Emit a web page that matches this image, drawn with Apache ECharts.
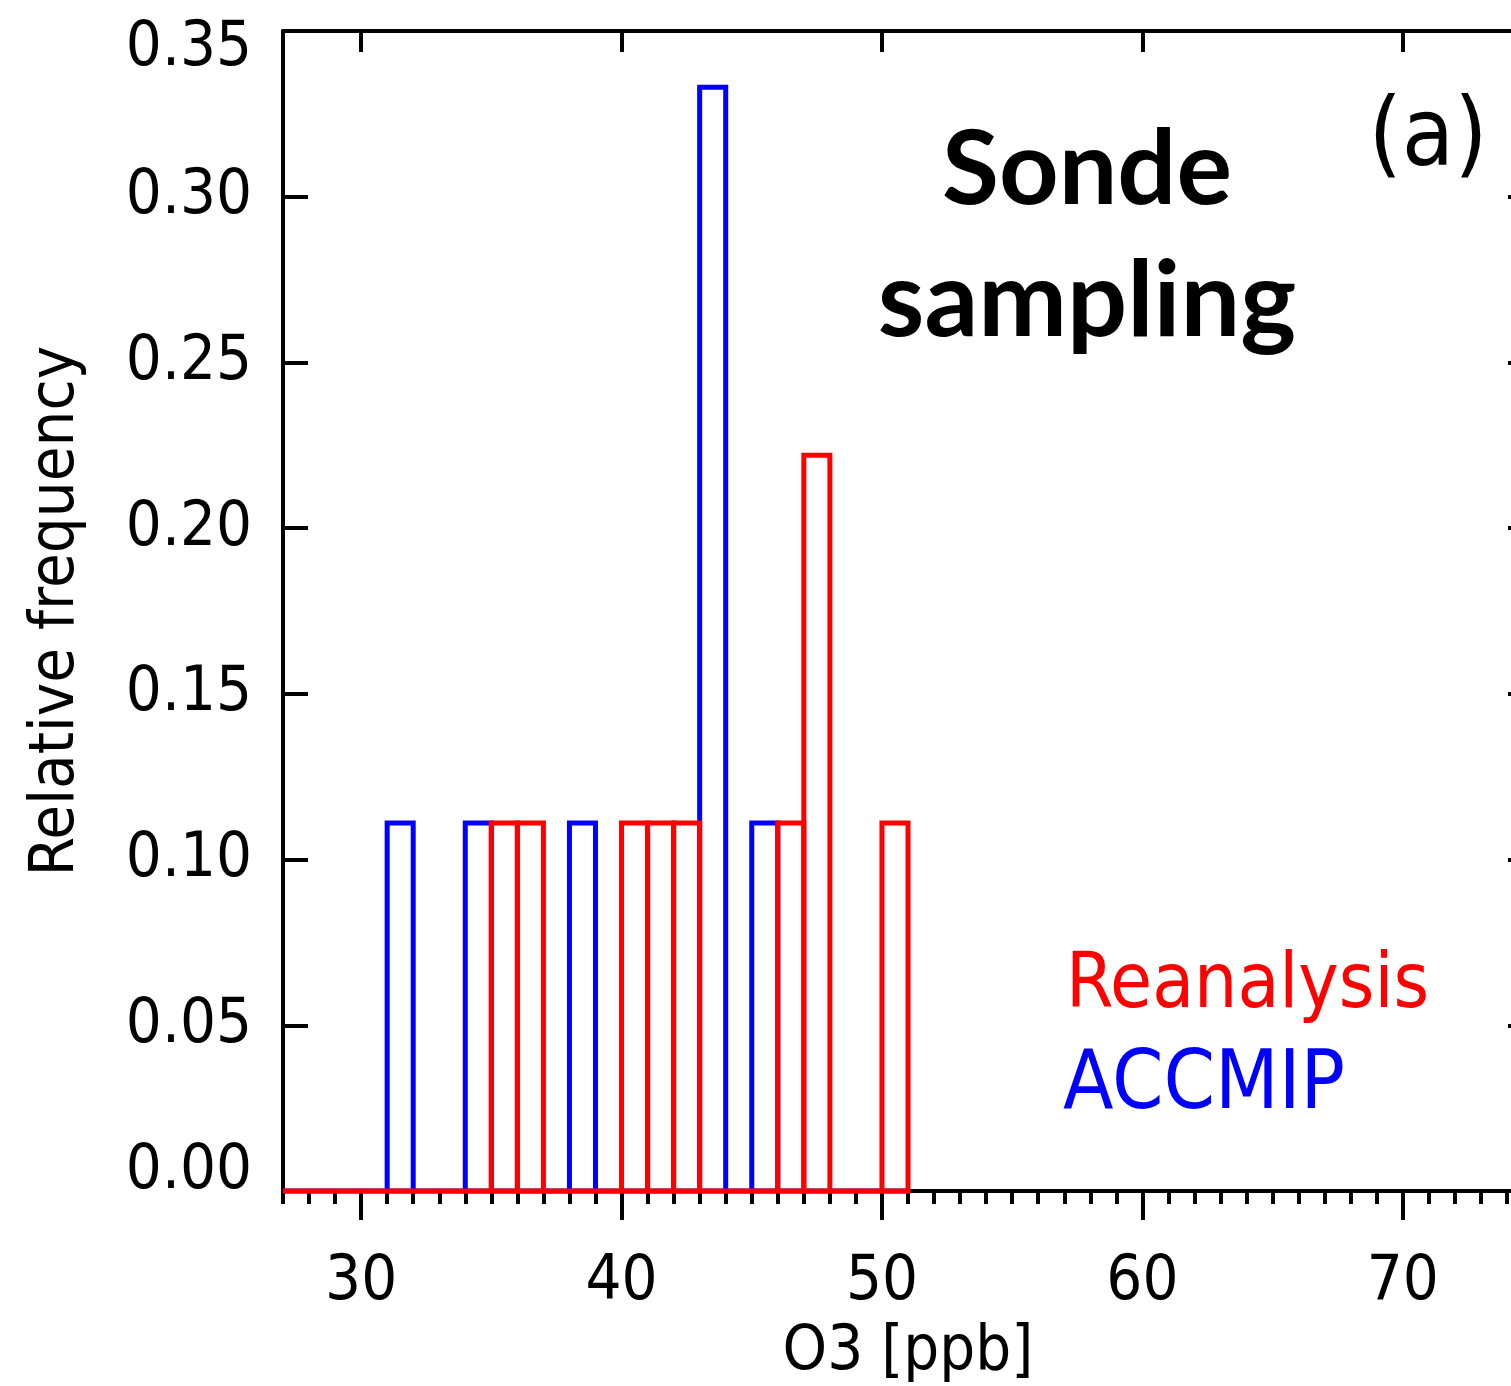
<!DOCTYPE html>
<html>
<head>
<meta charset="utf-8">
<script src="https://cdn.jsdelivr.net/npm/echarts@6/dist/echarts.min.js"></script>
<style>
  html, body { margin: 0; padding: 0; background: #fff; overflow: hidden; }
  #chart { width: 1560px; height: 1386px; }
</style>
</head>
<body>
<div id="chart"></div>
<script>
// histogram bins, 1 ppb wide, start value of each bin
const binStarts = [27, 28, 29, 30, 31, 32, 33, 34, 35, 36, 37, 38, 39, 40, 41, 42, 43, 44, 45, 46, 47, 48, 49, 50];
const reanalysisFreq = [0, 0, 0, 0, 0, 0, 0, 0, 0.111, 0.111, 0, 0, 0, 0.111, 0.111, 0.111, 0, 0, 0, 0.111, 0.222, 0, 0, 0.111];
const accmipFreq = [0, 0, 0, 0, 0.111, 0, 0, 0.111, 0, 0, 0, 0.111, 0, 0, 0, 0, 0.333, 0, 0.111, 0, 0, 0, 0, 0];
const xTickLabels = [30, 40, 50, 60, 70];
const yTickLabels = [0, 0.05, 0.10, 0.15, 0.20, 0.25, 0.30, 0.35];

const axisFont = '"DejaVu Sans Condensed", "DejaVu Sans", sans-serif';

function toBins(freq) {
  return binStarts.map((s, i) => [s, s + 1, freq[i]]);
}

function stepBars(color) {
  return function (params, api) {
    const p0 = api.coord([api.value(0), api.value(2)]);
    const p1 = api.coord([api.value(1), 0]);
    return {
      type: 'rect',
      shape: { x: p0[0], y: p0[1], width: p1[0] - p0[0], height: p1[1] - p0[1] },
      style: { fill: 'none', stroke: color, lineWidth: 5 }
    };
  };
}

const chart = echarts.init(document.getElementById('chart'));

const lineStyle = { color: '#000', width: 4 };

const option = {
  animation: false,
  grid: { left: 283, right: 27, top: 31, bottom: 195, containLabel: false, outerBoundsMode: 'none' },
  xAxis: [
    {
      type: 'value', position: 'bottom', min: 27, max: 75, interval: 1,
      axisLine: { lineStyle: lineStyle },
      axisTick: { inside: false, length: 13, lineStyle: { color: '#000', width: 4 } },
      axisLabel: {
        margin: 60, color: '#000', fontSize: 63, fontFamily: axisFont,
        formatter: v => (xTickLabels.indexOf(v) >= 0 ? String(v) : '')
      },
      splitLine: { show: false },
      name: 'O3 [ppb]', nameLocation: 'middle', nameGap: 130, nameMoveOverlap: false,
      nameTextStyle: { color: '#000', fontSize: 63, fontFamily: axisFont, verticalAlign: 'top' }
    },
    {
      type: 'value', position: 'bottom', min: 27, max: 75,
      axisLine: { show: false },
      axisTick: { inside: false, length: 29, customValues: xTickLabels, lineStyle: { color: '#000', width: 4 } },
      axisLabel: { show: false },
      splitLine: { show: false }
    },
    {
      type: 'value', position: 'top', min: 27, max: 75,
      axisLine: { lineStyle: lineStyle },
      axisTick: { inside: true, length: 21, customValues: xTickLabels, lineStyle: { color: '#000', width: 4 } },
      axisLabel: { show: false },
      splitLine: { show: false }
    }
  ],
  yAxis: [
    {
      type: 'value', position: 'left', min: 0, max: 0.35, interval: 0.05,
      axisLine: { show: true, lineStyle: lineStyle },
      axisTick: { show: true, inside: true, length: 25, lineStyle: { color: '#000', width: 4 } },
      axisLabel: {
        margin: 31, color: '#000', fontSize: 63, fontFamily: axisFont,
        formatter: v => {
          const s = v.toFixed(2);
          if (v === yTickLabels[0]) return '{lo|' + s + '}';
          if (Math.abs(v - yTickLabels[yTickLabels.length - 1]) < 1e-9) return '{hi|' + s + '}';
          return s;
        },
        rich: {
          lo: { fontSize: 63, fontFamily: axisFont, color: '#000', padding: [0, 0, 38, 0] },
          hi: { fontSize: 63, fontFamily: axisFont, color: '#000', padding: [36, 0, 0, 0] }
        }
      },
      splitLine: { show: false },
      name: 'Relative frequency', nameLocation: 'middle', nameGap: 195, nameRotate: 90, nameMoveOverlap: false,
      nameTextStyle: { color: '#000', fontSize: 63, fontFamily: axisFont, verticalAlign: 'bottom' }
    },
    {
      type: 'value', position: 'right', min: 0, max: 0.35, interval: 0.05,
      axisLine: { show: true, lineStyle: lineStyle },
      axisTick: { show: true, inside: true, length: 25, lineStyle: { color: '#000', width: 4 } },
      axisLabel: { show: false },
      splitLine: { show: false }
    }
  ],
  series: [
    {
      name: 'ACCMIP', type: 'custom', renderItem: stepBars('#0000ff'),
      data: toBins(accmipFreq), encode: { x: [0, 1], y: 2 }, z: 2
    },
    {
      name: 'Reanalysis', type: 'custom', renderItem: stepBars('#ff0000'),
      data: toBins(reanalysisFreq), encode: { x: [0, 1], y: 2 }, z: 3
    }
  ],
  graphic: [
    {
      type: 'text', x: 1087, y: 170, z: 10,
      style: { text: 'Sonde', fill: '#000', font: 'bold 104px Lato', align: 'center', verticalAlign: 'middle' }
    },
    {
      type: 'text', x: 1087, y: 302, z: 10,
      style: { text: 'sampling', fill: '#000', font: 'bold 106px Lato', align: 'center', verticalAlign: 'middle' }
    },
    {
      type: 'text', x: 1428, y: 140, z: 10,
      style: { text: '(a)', fill: '#000', fontSize: 95, fontFamily: axisFont, align: 'center', verticalAlign: 'middle' }
    },
    {
      type: 'text', x: 1066, y: 987, z: 10,
      style: { text: 'Reanalysis', fill: '#ff0000', fontSize: 76, fontFamily: axisFont, align: 'left', verticalAlign: 'middle' }
    },
    {
      type: 'text', x: 1063, y: 1087, z: 10,
      style: { text: 'ACCMIP', fill: '#0000ff', fontSize: 82, fontFamily: axisFont, align: 'left', verticalAlign: 'middle' }
    }
  ]
};

chart.setOption(option);
</script>
</body>
</html>
